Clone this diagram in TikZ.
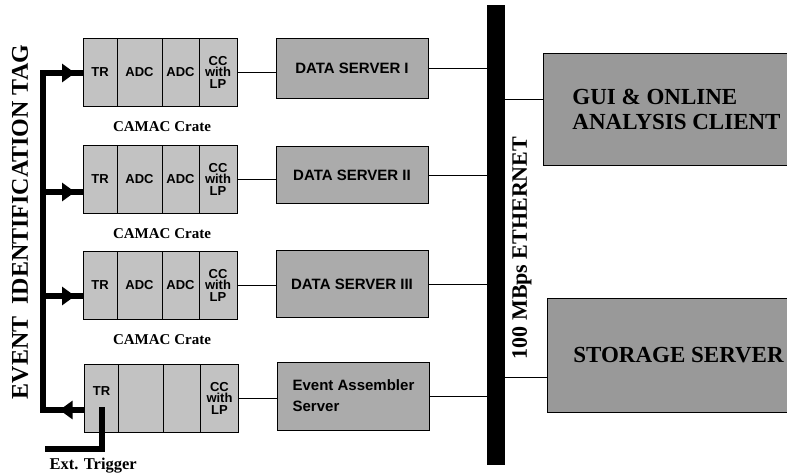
\documentclass[tikz,border=0pt]{standalone}
\usepackage{fontspec}
\setmainfont{Liberation Serif}
\setsansfont{Liberation Sans}
\usetikzlibrary{arrows.meta,positioning,calc,decorations.markings}
\tikzset{
  crt/.style={draw,fill=black!24,line width=0.8pt,minimum height=68pt,inner sep=1pt,
    outer sep=0pt,align=center,font=\sffamily\bfseries\fontsize{13}{11.5}\selectfont},
  srv/.style={draw,fill=black!33,line width=0.8pt,minimum width=152pt,inner sep=2pt,
    align=left,font=\sffamily\bfseries\fontsize{15}{21}\selectfont},
  big/.style={draw,fill=black!40,line width=0.8pt,align=left,
    font=\bfseries\fontsize{23}{25}\selectfont},
  cratelbl/.style={font=\bfseries\fontsize{15}{17}\selectfont},
  wire/.style={line width=0.8pt},
  tag/.style={line width=6pt},
  tagarr/.style={tag,postaction={decorate},decoration={markings,
    mark=at position #1 with {\arrow{Triangle[length=13pt,width=18pt]}}}},
}
\begin{document}
\begin{tikzpicture}[x=1pt,y=-1pt]
  \clip (0,0) rectangle (787,472);
  % ethernet backbone
  \node[fill=black,minimum width=18pt,minimum height=460pt,inner sep=0pt] (eth) at (496,235) {};
  \node[rotate=90,font=\bfseries\fontsize{22}{22}\selectfont] (ethlbl) at (522,248) {100 MBps ETHERNET};
  % crates with data servers
  \foreach \i/\y/\ay/\r/\sy/\sh in {1/72/73/I/68/60, 2/179/192/II/175/57, 3/285/296/III/284/67}{
    \node[crt,minimum width=34pt] (tr\i) at (100,\y) {TR};
    \node[crt,minimum width=45pt,right=0pt of tr\i] (adca\i) {ADC};
    \node[crt,minimum width=37pt,right=0pt of adca\i] (adcb\i) {ADC};
    \node[crt,minimum width=38pt,right=0pt of adcb\i] (cc\i) {CC\\with\\LP};
    \node[cratelbl] (lbl\i) at (162,{\y+55}) {CAMAC Crate};
    \node[srv,minimum height=\sh pt] (ds\i) at (352,\sy) {DATA SERVER \r};
    \draw[wire] (cc\i.east) -- (cc\i.east -| ds\i.west);
    \draw[wire] (ds\i.east) -- (ds\i.east -| eth.west);
    \coordinate (b\i) at (43,\ay);
    \draw[tagarr=0.8] (b\i) -- (tr\i.west |- b\i);
  }
  % event assembler crate
  \node[crt,minimum width=34pt] (tr4) at (101.5,398) {TR\\[3pt]};
  \node[crt,minimum width=45pt,right=0pt of tr4] (adca4) {};
  \node[crt,minimum width=37pt,right=0pt of adca4] (adcb4) {};
  \node[crt,minimum width=38pt,right=0pt of adcb4] (cc4) {CC\\with\\LP};
  \node[srv,minimum height=68pt] (ea) at (353.5,396) {Event Assembler\\Server};
  \draw[wire] (cc4.east) -- (cc4.east -| ea.west);
  \draw[wire] (ea.east) -- (ea.east -| eth.west);
  \coordinate (b4) at (43,410);
  \draw[tagarr=0.6] (tr4.west |- b4) -- (b4);
  % tag bus and trigger
  \draw[tag,line cap=rect] (b1) -- (b4);
  \node[rotate=90,font=\bfseries\fontsize{24}{24}\selectfont] (taglbl) at (20,222) {EVENT\ \ IDENTIFICATION TAG};
  \coordinate (trig) at (45,449);
  \draw[tag] ([yshift=-9pt]tr4.center) |- (trig);
  \node[anchor=base west,font=\bfseries\fontsize{16.5}{16.5}\selectfont] (triglbl) at (46,469) {Ext. Trigger};
  % clients
  \node[big,minimum width=267pt,minimum height=112pt] (gui) at (676.5,109) {GUI \& ONLINE\\ANALYSIS CLIENT};
  \node[big,minimum width=263pt,minimum height=114pt] (sto) at (678.5,355) {STORAGE SERVER};
  \draw[wire] ([yshift=10pt]gui.west) -- ([yshift=10pt]gui.west -| eth.east);
  \draw[wire] ([yshift=-22pt]sto.west) -- ([yshift=-22pt]sto.west -| eth.east);
\end{tikzpicture}
\end{document}
